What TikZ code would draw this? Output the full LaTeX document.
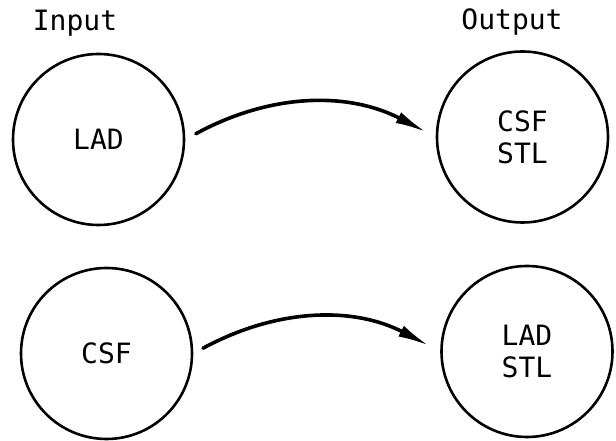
\documentclass[tikz,border=0pt]{standalone}
\usepackage{fontspec}
\setmonofont{DejaVu Sans Mono}
\usetikzlibrary{arrows.meta}
\begin{document}
\begin{tikzpicture}[line join=round, line cap=round, x=1pt, y=1pt]
	\def\R{171}
	\tikzset{
		krug/.style={draw, circle, line width=2.6pt, inner sep=0pt, minimum size=\R pt, align=center,
			font=\ttfamily\fontsize{28}{32}\selectfont},
		natpis/.style={font=\ttfamily\fontsize{28}{32}\selectfont},
		strela/.style={line width=3.6pt, -{Latex[length=32pt,width=12pt]}, bend left=28}
	}
	\useasboundingbox (0,0) rectangle (616,441);
	
	\node[natpis] (ulaz) at (75,418) {Input};
	\node[natpis] (izlaz) at (512,419) {Output};
	
	\foreach \n/\i/\j/\t in {lad/98.5/301.5/{LAD}, csfstl/522.5/304/{CSF\\STL},
		csf/106.5/87.5/{CSF}, ladstl/527/89.5/{LAD\\STL}}{
		\node[krug] (\n) at (\i,\j) {\t};
	}
	
	\draw[strela, shorten <=12pt, shorten >=10pt] (lad.east) to (csfstl.west);
	\draw[strela, shorten <=11pt, shorten >=12pt] (csf.east) to (ladstl.west);
\end{tikzpicture}
\end{document}
